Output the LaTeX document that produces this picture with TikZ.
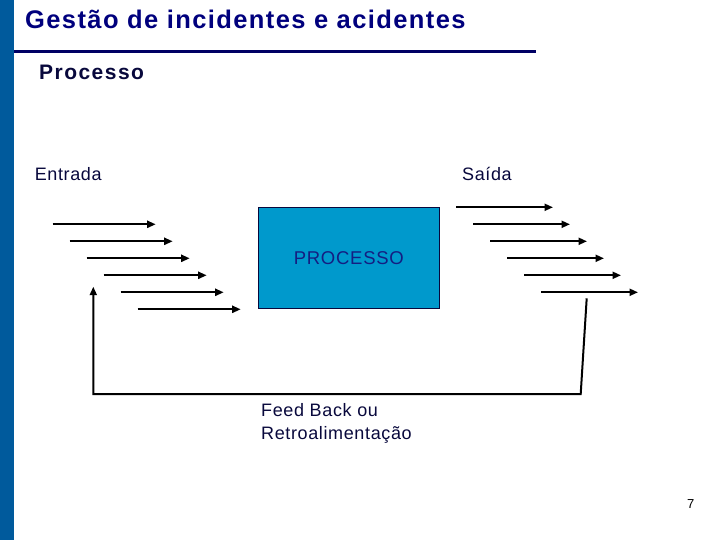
\documentclass[tikz,border=0pt]{standalone}
\usepackage{fontspec}
\setmainfont{Liberation Sans}
\usetikzlibrary{arrows.meta}

\definecolor{sidebar}{RGB}{0,90,156}
\definecolor{titlenavy}{RGB}{0,0,125}
\definecolor{darknavy}{RGB}{8,8,60}
\definecolor{procfill}{RGB}{0,153,204}
\definecolor{proctext}{RGB}{20,30,130}

\begin{document}
\begin{tikzpicture}[x=1pt, y=-1pt,
  flow/.style={line width=2pt, -{Triangle[length=8.5pt,width=7pt]}},
  label/.style={inner sep=0pt, anchor=base west, text=darknavy,
    font=\fontsize{18}{22.6}\selectfont\addfontfeatures{LetterSpace=3.5}}]
  \useasboundingbox (0,0) rectangle (720,540);

  \fill[sidebar] (0,0) rectangle (13.5,540);

  \node[inner sep=0pt, anchor=base west, text=titlenavy,
    font=\fontsize{25.5}{30}\selectfont\bfseries\addfontfeatures{LetterSpace=5.5}]
    (title) at (25,29) {Gestão de incidentes e acidentes};
  \draw[titlenavy!80!black, line width=3.5pt] (14,51.3) -- (536,51.3);

  \node[inner sep=0pt, anchor=base west, text=darknavy,
    font=\fontsize{21}{25}\selectfont\bfseries\addfontfeatures{LetterSpace=7}]
    (sub) at (39,80) {Processo};

  \node[label] (entrada) at (34.6,180.4) {Entrada};
  \node[label] (saida) at (462,180.4) {Saída};

  \node[draw=darknavy, line width=0.8pt, fill=procfill, text=proctext,
    minimum width=181pt, minimum height=100.6pt,
    font=\fontsize{18.5}{22}\selectfont\addfontfeatures{LetterSpace=4}]
    (proc) at (348.8,258) {PROCESSO};

  % inputs and outputs
  \foreach \i in {0,...,5} {
    \coordinate (in\i) at (52.7+17*\i,224.3+17*\i);
    \coordinate (inend\i) at (155.7+17*\i,224.3+17*\i);
    \draw[flow] (in\i) -- (inend\i);
    \coordinate (out\i) at (456+17*\i,207.3+17*\i);
    \coordinate (outend\i) at (553+17*\i,207.3+17*\i);
    \draw[flow] (out\i) -- (outend\i);
  }

  % feedback loop
  \coordinate (fbtop) at (586.7,298.3);
  \coordinate (fbright) at (580.7,394);
  \coordinate (fbleft) at (93.3,394);
  \coordinate (fbend) at (93.3,286.7);
  \draw[flow] (fbtop) -- (fbright) -- (fbleft) -- (fbend);

  \node[label, anchor=north west, align=left] (feedback) at (261,403.5)
    {Feed Back ou\\Retroalimentação};

  \node[inner sep=0pt, anchor=base east, font=\fontsize{13}{15}\selectfont]
    (page) at (694.5,508.3) {7};
\end{tikzpicture}
\end{document}
